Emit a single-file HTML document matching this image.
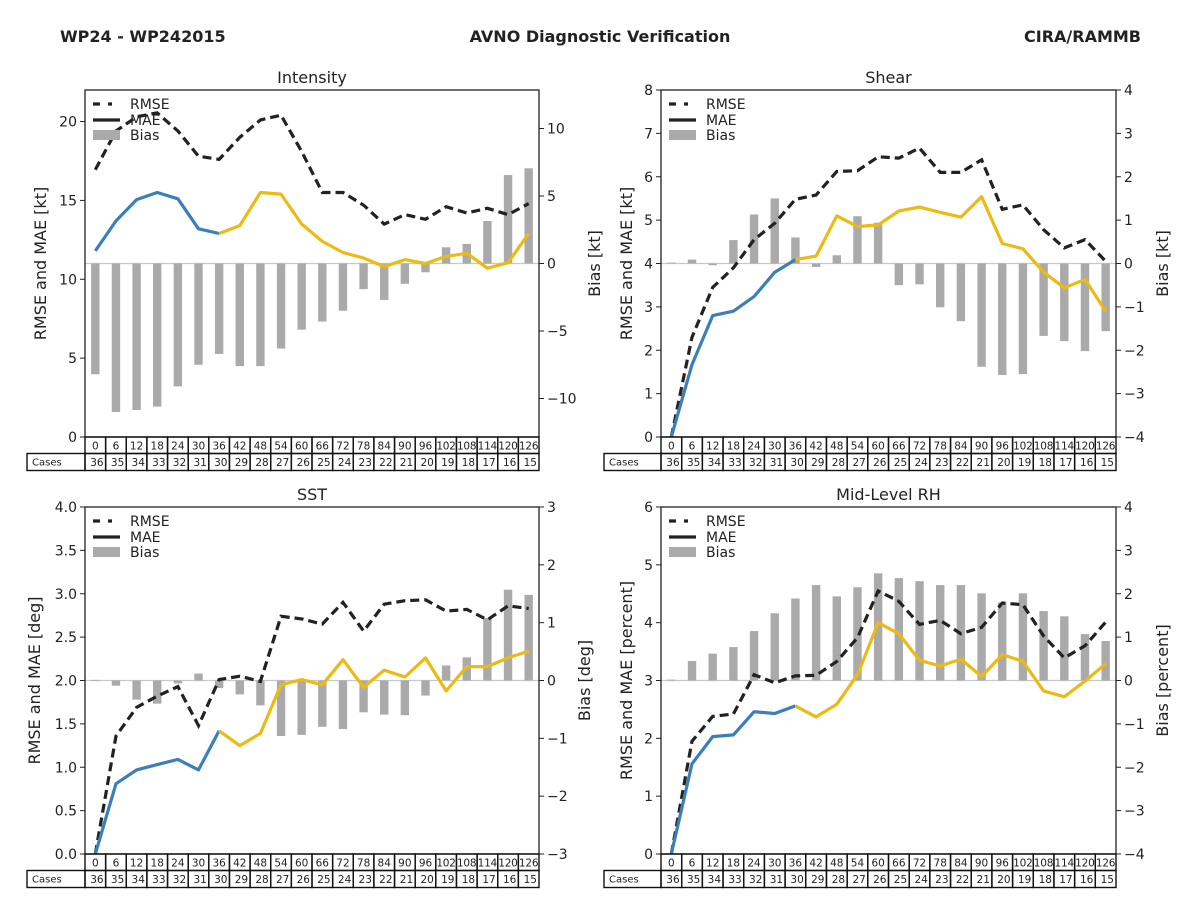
<!DOCTYPE html>
<html><head><meta charset="utf-8">
<style>
html,body{margin:0;padding:0;background:#fff;}
svg{display:block;font-family:"DejaVu Sans","Liberation Sans",sans-serif;}
</style></head>
<body>
<svg id="fig" width="1200" height="900" viewBox="0 0 1200 900" xmlns="http://www.w3.org/2000/svg">
<text x="60" y="42" font-size="16" font-weight="bold" fill="#222">WP24 - WP242015</text>
<text x="600" y="42" font-size="16" font-weight="bold" fill="#222" text-anchor="middle">AVNO Diagnostic Verification</text>
<text x="1141" y="42" font-size="16" font-weight="bold" fill="#222" text-anchor="end">CIRA/RAMMB</text>
</svg>
<script>
const hours=[0,6,12,18,24,30,36,42,48,54,60,66,72,78,84,90,96,102,108,114,120,126];
const cases=[36,35,34,33,32,31,30,29,28,27,26,25,24,23,22,21,20,19,18,17,16,15];

const intRmse=[16.95,19.4,20.3,20.55,19.4,17.8,17.6,19.0,20.1,20.4,18.1,15.5,15.5,14.7,13.5,14.1,13.8,14.6,14.2,14.5,14.1,14.8];
const intMae=[11.8,13.7,15.05,15.5,15.1,13.2,12.9,13.4,15.5,15.4,13.5,12.4,11.7,11.35,10.8,11.25,11.0,11.45,11.65,10.7,11.05,12.9];
const intBias=[-8.2,-11.0,-10.85,-10.6,-9.1,-7.5,-6.7,-7.6,-7.6,-6.3,-4.9,-4.3,-3.5,-1.9,-2.7,-1.5,-0.65,1.2,1.45,3.15,6.55,7.05];
const intLeftTicks=[0,5,10,15,20];
const intRightTicks=[-10,-5,0,5,10];

const shRmse=[0,2.3,3.45,3.9,4.55,4.93,5.48,5.58,6.12,6.14,6.46,6.43,6.66,6.1,6.1,6.39,5.25,5.35,4.78,4.36,4.55,4.05];
const shMae=[0,1.67,2.8,2.9,3.24,3.8,4.09,4.17,5.1,4.85,4.89,5.21,5.3,5.18,5.07,5.54,4.46,4.34,3.8,3.44,3.63,2.9];
const shBias=[0.02,0.09,-0.04,0.54,1.13,1.5,0.6,-0.08,0.19,1.09,0.94,-0.5,-0.48,-1.01,-1.33,-2.38,-2.57,-2.55,-1.67,-1.79,-2.02,-1.56];
const shLeftTicks=[0,1,2,3,4,5,6,7,8];
const shRightTicks=[-4,-3,-2,-1,0,1,2,3,4];

const sstRmse=[0,1.36,1.69,1.82,1.93,1.48,2.01,2.05,1.99,2.74,2.71,2.65,2.9,2.57,2.88,2.92,2.93,2.8,2.82,2.7,2.86,2.83];
const sstMae=[0,0.81,0.97,1.03,1.09,0.97,1.42,1.25,1.39,1.95,2.01,1.95,2.24,1.92,2.12,2.04,2.26,1.88,2.16,2.16,2.26,2.34];
const sstBias=[0.01,-0.09,-0.33,-0.4,-0.05,0.12,-0.13,-0.24,-0.43,-0.96,-0.94,-0.8,-0.84,-0.55,-0.59,-0.6,-0.26,0.26,0.4,1.08,1.57,1.48];
const sstLeftTicks=[0,0.5,1,1.5,2,2.5,3,3.5,4];
const sstRightTicks=[-3,-2,-1,0,1,2,3];

const rhRmse=[0,1.95,2.38,2.42,3.1,2.96,3.08,3.09,3.33,3.74,4.55,4.37,3.97,4.04,3.81,3.92,4.34,4.31,3.77,3.39,3.6,4.01];
const rhMae=[0,1.56,2.03,2.06,2.46,2.43,2.56,2.37,2.59,3.1,4.0,3.81,3.35,3.25,3.37,3.07,3.45,3.33,2.82,2.72,2.99,3.29];
const rhBias=[0.02,0.45,0.62,0.77,1.14,1.55,1.89,2.2,1.94,2.15,2.47,2.36,2.29,2.2,2.2,2.01,1.8,2.01,1.6,1.48,1.07,0.91];
const rhLeftTicks=[0,1,2,3,4,5,6];
const rhRightTicks=[-4,-3,-2,-1,0,1,2,3,4];

const NS="http://www.w3.org/2000/svg";
const fig=document.getElementById('fig');
function mk(tag,attrs,parent,txt){const e=document.createElementNS(NS,tag);for(const k in attrs)e.setAttribute(k,attrs[k]);if(txt!==undefined)e.textContent=txt;(parent||fig).appendChild(e);return e;}

function panel(o){
  const g=mk('g',{});
  
  
  const L=o.x0,R=o.x1,T=o.y0,B=o.y1;
  const cw=(R-L)/hours.length;
  const xs=i=>L+cw*(i+0.5);
  const yL=v=>B-(v-o.lmin)/(o.lmax-o.lmin)*(B-T);
  const yR=v=>B-(v-o.rmin)/(o.rmax-o.rmin)*(B-T);
  const t=mk('text',{x:(L+R)/2,y:T-7,'font-size':16,'text-anchor':'middle',fill:'#222'},g,o.title);
  
  
  const z=mk('line',{x1:L,x2:R,y1:yR(0),y2:yR(0),stroke:'#c8c8c8','stroke-width':1.2},g);
  
  
  o.bias.forEach((v,i)=>{
    const y0=yR(0),y1=yR(v);
    const b=mk('rect',{x:xs(i)-4.2,y:Math.min(y0,y1),width:8.4,height:Math.max(0.8,Math.abs(y1-y0)),fill:'#aaaaaa'},g);
    
    
  });
  const rp=o.rmse.map((v,i)=>xs(i).toFixed(1)+','+yL(v).toFixed(1)).join(' ');
  const rl=mk('polyline',{points:rp,fill:'none',stroke:'#222','stroke-width':3.2,'stroke-dasharray':'9,5'},g);
  
  
  const split=6;
  const mb=o.mae.slice(0,split+1).map((v,i)=>xs(i).toFixed(1)+','+yL(v).toFixed(1)).join(' ');
  const my=o.mae.slice(split).map((v,i)=>xs(i+split).toFixed(1)+','+yL(v).toFixed(1)).join(' ');
  const l1=mk('polyline',{points:mb,fill:'none',stroke:'#3a7fba','stroke-width':3.2,'stroke-linejoin':'round'},g);
  
  
  const l2=mk('polyline',{points:my,fill:'none',stroke:'#ebbb14','stroke-width':3.2,'stroke-linejoin':'round'},g);
  
  
  const f=mk('rect',{x:L,y:T,width:R-L,height:B-T,fill:'none',stroke:'#222','stroke-width':1.3},g);
  
  
  o.lticks.forEach(v=>{
    mk('line',{x1:L-5,x2:L,y1:yL(v),y2:yL(v),stroke:'#222','stroke-width':1},g);
    const tl=mk('text',{x:L-8,y:yL(v)+5,'font-size':14,'text-anchor':'end',fill:'#222'},g,o.lfmt(v));
    
    
  });
  o.rticks.forEach(v=>{
    mk('line',{x1:R,x2:R+5,y1:yR(v),y2:yR(v),stroke:'#222','stroke-width':1},g);
    const tl=mk('text',{x:R+8,y:yR(v)+5,'font-size':14,'text-anchor':'start',fill:'#222'},g,v<0?'\u2212'+Math.abs(v):String(v));
    
    
  });
  const ly=(T+B)/2;
  const al=mk('text',{x:0,y:0,'font-size':16,'text-anchor':'middle',fill:'#222',transform:`translate(${o.lx},${ly}) rotate(-90)`},g,o.ylab);
  
  
  const ar=mk('text',{x:0,y:0,'font-size':16,'text-anchor':'middle',fill:'#222',transform:`translate(${o.rx},${ly}) rotate(-90)`},g,o.rlab);
  
  
  const lg=mk('g',{},g);
  
  
  const lx=L+8;
  mk('line',{x1:lx,x2:lx+27,y1:T+14,y2:T+14,stroke:'#222','stroke-width':3.2,'stroke-dasharray':'7,8,4,20'},lg);
  mk('text',{x:lx+37,y:T+19,'font-size':14,fill:'#222'},lg,'RMSE');
  mk('line',{x1:lx,x2:lx+27,y1:T+30,y2:T+30,stroke:'#222','stroke-width':3.2},lg);
  mk('text',{x:lx+37,y:T+35,'font-size':14,fill:'#222'},lg,'MAE');
  mk('rect',{x:lx,y:T+40,width:27,height:10,fill:'#aaaaaa'},lg);
  mk('text',{x:lx+37,y:T+50,'font-size':14,fill:'#222'},lg,'Bias');
  const tb=mk('g',{},g);
  
  
  const r1=B, r2=B+16.5, r3=B+33.5;
  mk('rect',{x:o.tx,y:r2,width:L-o.tx,height:r3-r2,fill:'none',stroke:'#111','stroke-width':1.4},tb);
  mk('text',{x:o.tx+5,y:r2+12,'font-size':10,fill:'#222'},tb,'Cases');
  hours.forEach((h,i)=>{
    const cx=L+cw*i;
    mk('rect',{x:cx,y:r1,width:cw,height:r2-r1,fill:'none',stroke:'#111','stroke-width':1.4},tb);
    mk('rect',{x:cx,y:r2,width:cw,height:r3-r2,fill:'none',stroke:'#111','stroke-width':1.4},tb);
    const ht=mk('text',{x:cx+cw/2,y:r1+12.5,'font-size':10.5,'text-anchor':'middle',fill:'#222',textLength:(h>=100?cw-1:undefined)},tb,String(h));
    if(h<100) ht.removeAttribute('textLength');
    
    
    const ct=mk('text',{x:cx+cw-2,y:r2+12.5,'font-size':10.5,'text-anchor':'end',fill:'#222'},tb,String(cases[i]));
    
    
  });
}
const i0=v=>String(v), f1=v=>v.toFixed(1);
panel({name:'intensity',title:'Intensity',x0:85,x1:539,y0:90,y1:437,lmin:0,lmax:22,rmin:-12.85,rmax:12.85,
  rmse:intRmse,mae:intMae,bias:intBias,lticks:intLeftTicks,rticks:intRightTicks,lfmt:i0,
  ylab:'RMSE and MAE [kt]',rlab:'Bias [kt]',lx:46,rx:600,tx:27});
panel({name:'shear',title:'Shear',x0:661,x1:1116,y0:90,y1:437,lmin:0,lmax:8,rmin:-4,rmax:4,
  rmse:shRmse,mae:shMae,bias:shBias,lticks:shLeftTicks,rticks:shRightTicks,lfmt:i0,
  ylab:'RMSE and MAE [kt]',rlab:'Bias [kt]',lx:632,rx:1168,tx:604});
panel({name:'sst',title:'SST',x0:85,x1:539,y0:507,y1:854,lmin:0,lmax:4,rmin:-3,rmax:3,
  rmse:sstRmse,mae:sstMae,bias:sstBias,lticks:sstLeftTicks,rticks:sstRightTicks,lfmt:f1,
  ylab:'RMSE and MAE [deg]',rlab:'Bias [deg]',lx:40,rx:590,tx:27});
panel({name:'mid-level-rh',title:'Mid-Level RH',x0:661,x1:1116,y0:507,y1:854,lmin:0,lmax:6,rmin:-4,rmax:4,
  rmse:rhRmse,mae:rhMae,bias:rhBias,lticks:rhLeftTicks,rticks:rhRightTicks,lfmt:i0,
  ylab:'RMSE and MAE [percent]',rlab:'Bias [percent]',lx:632,rx:1168,tx:604});
</script>
</body></html>
